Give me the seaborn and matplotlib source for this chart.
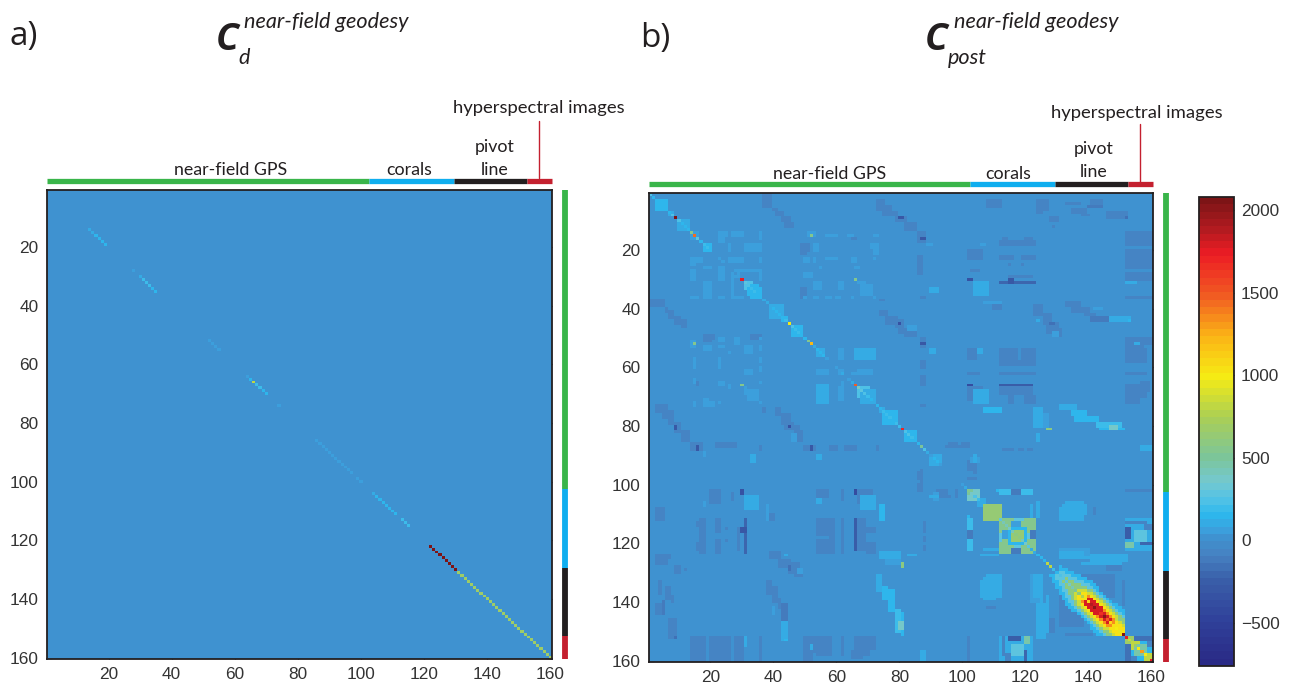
import numpy as np
import matplotlib
matplotlib.use('Agg')
import matplotlib.pyplot as plt
from matplotlib.colors import LinearSegmentedColormap
import seaborn as sns

W, H = 1293, 687
N = 160
VMIN, VMAX = -760, 2080

# colour anchors
cbar_values = [-760, -500, -250, -100, 0, 60, 150, 250, 350, 500, 750, 1000, 1250, 1500, 1750, 1900, 2080]
cbar_colors = ['#2A2A86', '#30419A', '#3A5FA9', '#4682C2', '#4090CE', '#3BA2DE', '#2DB8ED', '#55C3E5', '#74C8CF',
               '#7CC59A', '#ABCF54', '#F6EB14', '#FBB316', '#F15A22', '#ED1C24', '#B31B20', '#7D1416']

# panel a: only the diagonal is filled (first row, values)
diag_a = [
    (14, [100, 100, 150, 150, 170, 150]),
    (28, [80]),
    (30, [100, 180, 200, 180, 170, 130]),
    (52, [70, 80, 80, 60]),
    (64, [60, 130, 800, 200, 180, 170, 150]),
    (74, [50]),
    (86, [40, 50, 60, 70, 70, 80, 80, 70, 70, 70, 60, 50]),
    (99, [60, 70]),
    (104, [100, 130, 150, 150, 150, 150, 150, 150]),
    (113, [200, 200, 210]),
    (122, [2080] * 9),
    (131, [690] * 30),
]

# panel b: diagonal, row 1 to 160
diag_b = [250, 170, 150, 150, 170, 160, 150, 250, 2080, 250, 170, 150, 150, 550, 1450, 300, 160, 180, 180, 150,
          0, 0, 60, 60, 0, 0, 0, 30, 60, 1750, 300, 250, 200, 180, 170, 150, 120, 120, 100, 130,
          150, 140, 130, 200, 1000, 250, 200, 180, 170, 150, 550, 1200, 100, 170, 170, 170, 60, 0, 0, 60,
          60, 90, 0, 60, 100, 1500, 350, 300, 250, 200, 170, 100, 160, 150, 200, 200, 180, 160, 200, 200,
          1700, 250, 220, 200, 170, 150, 500, 250, 100, 60, 170, 170, 60, 0, 0, 0, 0, 0, 0, 60,
          100, 550, 350, 250, 200, 100, 620, 620, 620, 620, 620, 300, 400, 400, 350, 400, 600, 600, 400, 350,
          300, 120, 120, 130, 130, 130, 800, 800, 200, 130, 250, 270, 300, 350, 400, 500, 600, 750, 950, 1100,
          1900, 2000, 1800, 1650, 2000, 1500, 1100, 1050, 1000, 950, 2080, 1750, 850, 800, 650, 1000, 1300, 1000, 800, 1750]

# slightly negative patches, upper triangle: row0, row1, col0, col1, value
dark_blocks = [
    (1, 5, 37, 39, -80), (6, 6, 40, 41, -80), (7, 8, 41, 43, -80), (9, 10, 43, 45, -90), (11, 12, 44, 46, -90),
    (3, 4, 73, 75, -80), (5, 6, 73, 77, -80), (7, 8, 75, 79, -80), (9, 10, 79, 82, -80), (9, 9, 80, 81, -280),
    (11, 13, 82, 85, -80), (3, 5, 108, 112, -70), (3, 7, 124, 125, -70), (3, 6, 126, 127, -70),
    (4, 4, 133, 137, -70), (3, 4, 141, 144, -70), (5, 5, 140, 144, -110), (6, 7, 135, 139, -70),
    (8, 8, 138, 140, -70), (7, 9, 146, 152, -80), (9, 9, 152, 152, -170), (9, 10, 128, 130, -80), (12, 12, 129, 129, -70),
    (14, 17, 86, 88, -70), (16, 16, 87, 88, -300), (15, 15, 152, 160, -70), (17, 17, 152, 160, -70),
    (16, 16, 156, 160, -320), (16, 16, 113, 114, -70), (16, 16, 120, 122, -70), (17, 18, 112, 123, -80),
    (16, 16, 65, 66, -80), (18, 21, 49, 50, -80), (20, 23, 102, 106, -70), (22, 23, 112, 116, -70),
    (22, 23, 119, 123, -70), (22, 25, 152, 160, -70), (25, 25, 115, 115, -70), (25, 25, 119, 119, -70),
    (22, 28, 86, 87, -70), (27, 27, 103, 105, -70), (28, 28, 152, 160, -70), (29, 29, 115, 122, -70),
    (30, 30, 152, 160, -70), (30, 30, 102, 103, -350), (31, 31, 112, 123, -220), (30, 31, 115, 116, -300),
    (33, 36, 49, 50, -90), (36, 36, 87, 88, -70), (36, 36, 152, 160, -70), (37, 37, 74, 75, -70),
    (39, 40, 110, 112, -70), (39, 42, 123, 125, -70), (38, 39, 133, 137, -80), (40, 41, 135, 140, -80),
    (42, 42, 139, 142, -90), (43, 44, 141, 149, -110), (41, 42, 74, 76, -80), (43, 45, 76, 79, -80),
    (44, 46, 79, 81, -90), (45, 45, 80, 80, -320), (47, 48, 80, 82, -80), (42, 45, 126, 128, -80),
    (45, 48, 127, 130, -80), (45, 45, 128, 129, -150), (47, 49, 130, 131, -70), (48, 49, 82, 85, -80),
    (50, 53, 87, 88, -70), (52, 52, 87, 88, -300), (50, 51, 18, 20, -70), (52, 52, 152, 160, -70),
    (52, 52, 157, 160, -320), (54, 58, 152, 158, -70), (54, 56, 102, 104, -70), (57, 57, 102, 104, -70),
    (54, 58, 112, 117, -90), (54, 58, 119, 123, -90), (58, 59, 112, 123, -90), (58, 60, 87, 88, -70),
    (62, 62, 102, 105, -70), (62, 62, 112, 123, -70), (62, 62, 152, 158, -70), (63, 66, 87, 88, -70),
    (66, 66, 102, 103, -380), (66, 66, 112, 122, -270), (66, 66, 152, 157, -170), (67, 71, 102, 106, -80),
    (67, 69, 112, 122, -80), (70, 72, 115, 116, -70), (70, 72, 120, 123, -70), (67, 70, 152, 158, -80),
    (73, 73, 87, 88, -70), (87, 87, 95, 99, -70), (88, 88, 113, 116, -70), (88, 88, 118, 119, -70),
    (88, 88, 121, 122, -70), (92, 94, 102, 104, -70), (95, 95, 102, 104, -70), (98, 98, 102, 104, -70),
    (102, 102, 152, 160, -70), (96, 98, 86, 87, -70), (100, 102, 86, 87, -60), (104, 104, 92, 96, -70),
    (128, 128, 147, 150, -60), (142, 142, 108, 110, -70), (146, 150, 127, 129, -70), (151, 151, 133, 141, -70),
    (131, 138, 138, 148, -90), (157, 160, 16, 17, -620), (157, 160, 51, 52, -400), (153, 156, 16, 17, -300),
    (152, 153, 14, 18, -80), (154, 160, 14, 18, -80), (152, 160, 20, 25, -70), (152, 160, 26, 26, -70),
    (152, 160, 29, 30, -70), (152, 160, 36, 36, -70), (152, 154, 50, 58, -80), (155, 160, 50, 52, -80),
    (155, 157, 53, 55, -70), (152, 156, 66, 72, -80), (157, 159, 65, 68, -70),
]

# slightly positive patches, same layout
light_blocks = [
    (14, 15, 23, 25, 50), (14, 15, 27, 30, 50), (14, 16, 36, 36, 50), (14, 15, 51, 53, 50), (15, 15, 52, 52, 550),
    (15, 15, 57, 60, 50), (15, 15, 64, 65, 50), (15, 15, 72, 73, 50), (18, 20, 18, 20, 130), (18, 20, 26, 26, 50),
    (18, 20, 31, 36, 80), (18, 20, 53, 54, 80), (18, 19, 71, 73, 70), (20, 21, 72, 73, 70), (18, 18, 89, 90, 80),
    (18, 18, 106, 107, 80), (23, 24, 14, 17, 40), (23, 24, 27, 30, 50), (23, 24, 36, 36, 50), (23, 24, 50, 51, 50),
    (23, 24, 53, 53, 50), (23, 23, 57, 60, 50), (23, 24, 65, 66, 50), (23, 23, 72, 72, 50), (27, 27, 28, 36, 40),
    (26, 27, 23, 24, 40), (26, 26, 55, 55, 40), (26, 26, 66, 67, 50), (28, 30, 36, 36, 40), (28, 30, 23, 24, 50),
    (28, 29, 27, 28, 40), (28, 29, 50, 52, 40), (30, 30, 66, 66, 550), (31, 31, 67, 69, 80), (32, 35, 68, 71, 80),
    (31, 33, 53, 55, 80), (31, 33, 61, 61, 50), (31, 35, 104, 108, 110), (33, 34, 90, 92, 90), (36, 36, 50, 50, 40),
    (36, 36, 53, 54, 40), (36, 36, 57, 58, 40), (36, 36, 60, 61, 40), (36, 36, 65, 65, 40), (36, 36, 72, 72, 40),
    (31, 31, 152, 155, 100), (38, 38, 107, 112, 80), (40, 40, 142, 144, 80), (43, 44, 147, 153, 110),
    (44, 44, 153, 153, 170), (44, 44, 124, 124, 100), (46, 47, 83, 85, 80), (48, 49, 129, 130, 50),
    (52, 52, 155, 156, 100), (54, 55, 90, 91, 100), (54, 55, 105, 106, 100), (54, 57, 61, 62, 60),
    (54, 57, 66, 72, 110), (62, 62, 54, 56, 50), (62, 62, 61, 61, 50), (62, 62, 65, 70, 50), (62, 62, 31, 33, 50),
    (67, 72, 54, 56, 110), (67, 71, 61, 62, 60), (68, 72, 104, 108, 100), (74, 75, 107, 112, 130),
    (74, 80, 123, 125, 120), (76, 80, 126, 127, 80), (73, 74, 131, 136, 90), (75, 76, 135, 139, 150),
    (77, 78, 136, 143, 170), (79, 80, 143, 150, 190), (81, 81, 144, 151, 170), (80, 81, 147, 149, 350),
    (81, 81, 127, 128, 600), (83, 85, 124, 124, 100),
    (87, 88, 157, 160, 100), (91, 92, 103, 105, 80), (102, 102, 102, 103, 500), (102, 102, 111, 116, 170),
    (102, 102, 119, 122, 140), (104, 105, 102, 105, 350), (105, 107, 105, 107, 110), (104, 104, 90, 92, 90),
    (106, 111, 124, 124, 110), (106, 106, 133, 138, 110), (107, 110, 132, 139, 110), (112, 122, 102, 103, 200),
    (116, 118, 102, 103, -100), (122, 122, 107, 112, 90), (122, 125, 131, 140, 80), (124, 126, 141, 152, 110),
    (131, 138, 108, 112, 110), (131, 138, 123, 125, 110), (138, 150, 125, 125, 110), (138, 150, 127, 127, 110),
    (143, 150, 124, 124, 110), (139, 146, 131, 135, -90),
]

# wider blobs hugging the diagonal
near_diag_blocks = [
    (3, 6, 3, 6, 130), (7, 8, 7, 8, 100), (10, 13, 10, 13, 110), (14, 16, 14, 16, 70), (31, 33, 31, 33, 230),
    (33, 35, 32, 36, 130), (39, 42, 39, 43, 110), (43, 44, 43, 44, 150), (46, 49, 46, 49, 150), (54, 56, 54, 56, 110),
    (67, 70, 67, 70, 220), (68, 72, 68, 72, 110), (74, 75, 74, 75, 110), (75, 79, 75, 79, 150), (82, 85, 82, 85, 150),
    (91, 93, 90, 92, 110), (107, 111, 107, 112, 620),
]

# square group on the diagonal and its cross block
pattern_blocks = [
    (112, 122, 113, 123, 300), (112, 115, 113, 116, 550), (112, 115, 120, 123, 550), (119, 122, 113, 116, 550),
    (119, 122, 120, 123, 550), (115, 119, 115, 120, 170), (116, 118, 116, 119, 620), (116, 118, 113, 114, 40),
    (116, 118, 122, 123, -100), (112, 122, 152, 160, 100), (116, 119, 155, 158, 300), (120, 121, 152, 154, 450),
    (115, 118, 152, 153, -250), (113, 113, 152, 158, -70), (120, 120, 157, 160, -200), (114, 115, 158, 160, -80),
    (152, 160, 152, 160, 130), (152, 153, 152, 155, 700), (152, 153, 157, 160, -150), (154, 156, 154, 156, 800),
    (156, 158, 155, 158, 450), (155, 158, 152, 153, -150), (158, 160, 158, 160, 800), (154, 155, 159, 160, -80),
]

# wide ridge on the diagonal, rows 131 to 151: half widths per level
ridge_levels = [170, 300, 600, 850, 1050, 1350, 1800]
ridge_hw = [
    [3, 3, 4, 4, 5, 5, 6, 6, 7, 7, 8, 8, 8, 7, 7, 7, 6, 5, 5, 4, 1],
    [1, 2, 2, 3, 3, 4, 4, 5, 5, 6, 6, 6, 6, 6, 6, 5, 5, 4, 3, 2, 0],
    [0, 0, 1, 1, 2, 2, 3, 3, 4, 4, 5, 5, 5, 5, 5, 5, 4, 4, 3, 2, 0],
    [0, 0, 0, 0, 0, 0, 1, 2, 3, 3, 4, 4, 4, 4, 4, 3, 3, 3, 2, 1, 0],
    [0, 0, 0, 0, 0, 0, 0, 1, 2, 2, 3, 3, 3, 3, 3, 2, 2, 2, 2, 1, 0],
    [0, 0, 0, 0, 0, 0, 0, 0, 0, 2, 2, 2, 2, 1, 2, 2, 1, 0, 0, 0, 0],
    [0, 0, 0, 0, 0, 0, 0, 0, 0, 1, 2, 2, 1, 0, 1, 1, 0, 0, 0, 0, 0],
]

ticks = [20, 40, 60, 80, 100, 120, 140, 160]
cbar_ticks = [-500, 0, 500, 1000, 1500, 2000]
group_names = ['near-field GPS', 'corals', 'pivot', 'line', 'hyperspectral images']
group_edges = [0, 102, 129, 152, 160]
group_colors = ['#39B54A', '#0FAEEF', '#231F20', '#C4202F']

# build matrices
mat_a = np.zeros((N, N))
for start, vals in diag_a:
    for k, v in enumerate(vals):
        mat_a[start - 1 + k, start - 1 + k] = v

mat_b = np.zeros((N, N))
for r0, r1, c0, c1, v in dark_blocks + light_blocks + near_diag_blocks + pattern_blocks:
    mat_b[r0 - 1:r1, c0 - 1:c1] = v
    mat_b[c0 - 1:c1, r0 - 1:r1] = v
for lev, hw in zip(ridge_levels, ridge_hw):
    for k, h in enumerate(hw):
        i = 130 + k
        if h == 0:
            continue
        lo, hi = i - h, min(i + h, 150) + 1
        mat_b[i, lo:hi] = lev
        mat_b[lo:hi, i] = lev
mat_b[np.arange(N), np.arange(N)] = diag_b

sns.set_theme(style='white')
plt.rcParams['font.family'] = ['Liberation Sans', 'DejaVu Sans']
ink = '#231F20'

cmap = LinearSegmentedColormap.from_list(
    'muted_jet',
    [((v - VMIN) / (VMAX - VMIN), c) for v, c in zip(cbar_values, cbar_colors)],
    N=64)


def place(fig, x0, y0, x1, y1):
    return fig.add_axes([x0 / W, 1 - y1 / H, (x1 - x0) / W, (y1 - y0) / H])


def panel(fig, mat, box, cax=None):
    ax = place(fig, *box)
    sns.heatmap(mat, ax=ax, cmap=cmap, vmin=VMIN, vmax=VMAX, cbar=cax is not None, cbar_ax=cax,
                xticklabels=False, yticklabels=False)
    pos = [t - 0.5 for t in ticks]
    ax.set_xticks(pos, [str(t) for t in ticks])
    ax.set_yticks(pos, [str(t) for t in ticks], rotation=0)
    ax.tick_params(direction='in', length=3.5, width=0.9, color=ink, top=True, right=True, bottom=True, left=True,
                   labelsize=12.4, labelcolor='#333333', pad=6)
    for s in ax.spines.values():
        s.set_visible(True)
        s.set_color(ink)
        s.set_linewidth(1.3)
    # group bars along top and right
    for a, b, c in zip(group_edges[:-1], group_edges[1:], group_colors):
        ax.plot([a, b], [-2.9, -2.9], color=c, lw=3.8, solid_capstyle='butt', clip_on=False)
        ax.plot([164.2, 164.2], [a, b], color=c, lw=4.2, solid_capstyle='butt', clip_on=False)
    return ax


fig = plt.figure(figsize=(W / 100, H / 100), dpi=100)
cax = place(fig, 1199, 197, 1234, 666)
ax_a = panel(fig, mat_a, (47, 190, 552, 659))
ax_b = panel(fig, mat_b, (649, 193, 1153, 662), cax=cax)

cbar = ax_b.collections[0].colorbar
cbar.set_ticks(cbar_ticks, labels=['\u2212500', '0', '500', '1000', '1500', '2000'])
cbar.ax.tick_params(direction='in', length=4, width=0.9, color=ink, left=True, right=True,
                    labelsize=12.4, labelcolor='#333333', pad=5)
cbar.outline.set_edgecolor(ink)
cbar.outline.set_linewidth(1.3)
cbar.outline.set_visible(True)


def label(x, y, s, size=12.8, **kw):
    fig.text(x / W, 1 - y / H, s, ha=kw.pop('ha', 'center'), va='center', fontsize=size, color=ink,
             family=kw.pop('family', 'Lato'), **kw)


# panel letters and titles
label(24, 37, 'a)', size=24, family='Open Sans')
label(655, 39, 'b)', size=24, family='Open Sans')
label(227, 40, 'C', size=27, fontweight='bold', style='italic', family='Open Sans')
label(244, 22, 'near-field geodesy', size=15.6, ha='left', style='italic')
label(238, 58, 'd', size=15.6, ha='left', style='italic')
label(936, 40, 'C', size=27, fontweight='bold', style='italic', family='Open Sans')
label(954, 22, 'near-field geodesy', size=15.6, ha='left', style='italic')
label(948, 58, 'post', size=15.6, ha='left', style='italic')

# group labels
label(231, 170, group_names[0])
label(409, 170, group_names[1])
label(495, 147, group_names[2])
label(495, 170, group_names[3])
label(539, 108, group_names[4], size=13.3)
label(830, 174, group_names[0])
label(1008, 174, group_names[1])
label(1094, 149, group_names[2])
label(1094, 172, group_names[3])
label(1137, 113, group_names[4], size=13.3)

for x, y0, y1 in [(539, 121, 178), (1140, 124, 182)]:
    fig.add_artist(plt.Line2D([x / W, x / W], [1 - y0 / H, 1 - y1 / H], color='#C4202F', lw=1))

fig.savefig('out.png', dpi=100)
